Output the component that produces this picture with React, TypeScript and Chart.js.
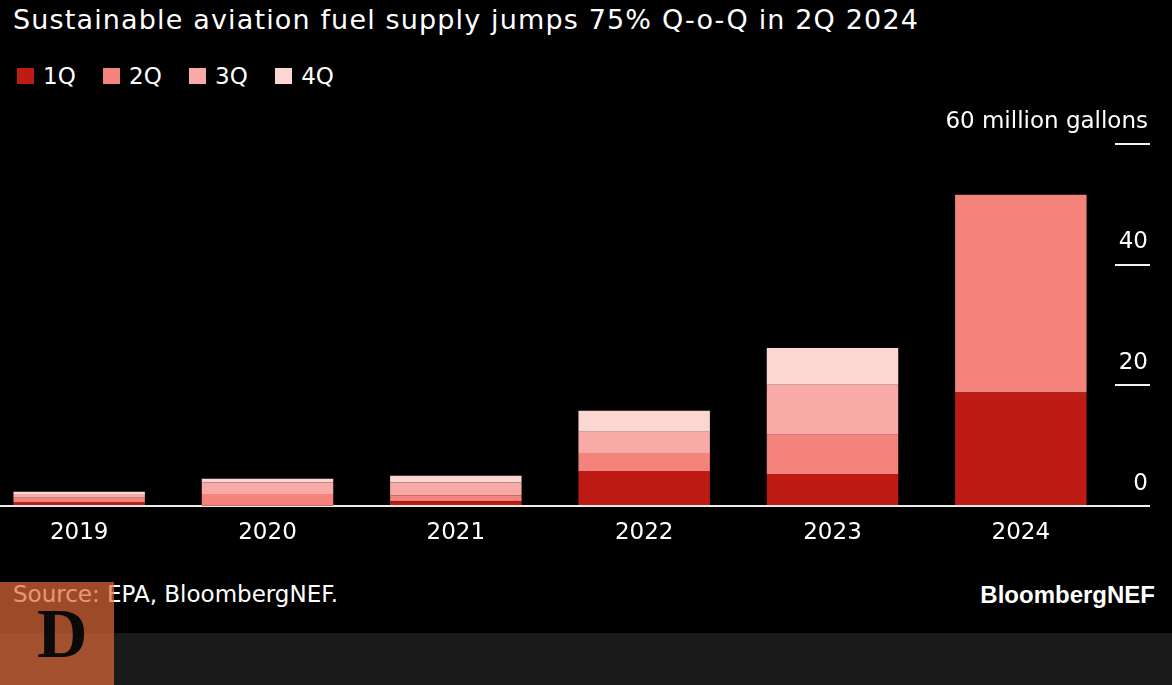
import React, { useEffect, useRef } from 'react';
import { Chart, registerables } from 'chart.js';

Chart.register(...registerables);

const titleText = 'Sustainable aviation fuel supply jumps 75% Q-o-Q in 2Q 2024';
const sourceText = 'Source: EPA, BloombergNEF.';
const brandText = 'BloombergNEF';

const years = ['2019', '2020', '2021', '2022', '2023', '2024'];
const seriesNames = ['1Q', '2Q', '3Q', '4Q'];
const q1Values = [0.6, 0.1, 0.8, 5.8, 5.3, 18.8];
const q2Values = [0.75, 1.9, 1.0, 3.0, 6.5, 32.8];
const q3Values = [0.65, 1.9, 2.1, 3.5, 8.3, null];
const q4Values = [0.35, 0.6, 1.1, 3.5, 6.1, null];
const seriesColors = ['#BD1B13', '#F3837B', '#F8ABA6', '#FCD6D3'];

const yTickValues = [0, 20, 40, 60];
const yTickLabels = ['0', '20', '40', '60 million gallons'];

const FONT = '"DejaVu Sans", sans-serif';

const yLabelPlugin = {
  id: 'yLabelPlugin',
  afterDraw(chart: any) {
    const scale = chart.scales.y;
    const ctx = chart.ctx;
    ctx.save();
    ctx.font = `23px ${FONT}`;
    ctx.fillStyle = '#ffffff';
    ctx.textAlign = 'right';
    ctx.textBaseline = 'alphabetic';
    yTickValues.forEach((v, i) => {
      const y = scale.getPixelForValue(v);
      ctx.fillText(yTickLabels[i], scale.right - 2, y - 16.5);
    });
    ctx.restore();
  },
};

export default function App() {
  const canvasRef = useRef<HTMLCanvasElement | null>(null);

  useEffect(() => {
    if (!canvasRef.current) return;
    const allValues = [q1Values, q2Values, q3Values, q4Values];
    const chart = new Chart(canvasRef.current, {
      type: 'bar',
      data: {
        labels: years,
        datasets: seriesNames.map((name, i) => ({
          label: name,
          data: allValues[i] as any,
          backgroundColor: seriesColors[i],
          borderWidth: 0,
          barPercentage: 0.698,
          categoryPercentage: 1,
        })),
      },
      options: {
        responsive: false,
        animation: false,
        maintainAspectRatio: false,
        layout: { padding: { top: 144, right: 22, left: 0, bottom: 0 } },
        plugins: {
          legend: { display: false },
          tooltip: { enabled: false },
        },
        scales: {
          x: {
            stacked: true,
            grid: { display: false, drawTicks: false },
            border: { display: false },
            ticks: {
              color: '#ffffff',
              font: { family: FONT, size: 23 },
              padding: 13,
              maxRotation: 0,
            },
            afterFit: (scale: any) => {
              scale.height = 54;
            },
          },
          y: {
            stacked: true,
            position: 'right',
            min: 0,
            max: 60,
            ticks: { display: false, stepSize: 20 },
            border: { display: false },
            grid: {
              display: true,
              drawOnChartArea: true,
              drawTicks: true,
              tickLength: 35,
              lineWidth: 2,
              color: (c: any) => (c.tick && c.tick.value === 0 ? '#ececec' : 'rgba(0,0,0,0)'),
              tickColor: '#f2f2f2',
            },
            afterFit: (scale: any) => {
              scale.width = 35;
            },
          },
        },
      },
      plugins: [yLabelPlugin],
    });
    return () => chart.destroy();
  }, []);

  return (
    <div
      style={{
        position: 'fixed',
        left: 0,
        top: 0,
        width: 1172,
        height: 685,
        background: '#000',
        overflow: 'hidden',
        fontFamily: FONT,
        color: '#fff',
      }}
    >
      <div
        style={{
          position: 'absolute',
          left: 13,
          top: 6.4,
          fontSize: 27,
          lineHeight: '27px',
          whiteSpace: 'nowrap',
          letterSpacing: '1.15px',
        }}
      >
        {titleText}
      </div>
      <div style={{ position: 'absolute', left: 17, top: 64.6, display: 'flex', height: 23 }}>
        {seriesNames.map((name, i) => (
          <div key={name} style={{ display: 'flex', alignItems: 'flex-start', marginRight: 27.3 }}>
            <div style={{ width: 17, height: 16, marginTop: 3.4, background: seriesColors[i], marginRight: 9 }} />
            <div style={{ fontSize: 23, lineHeight: '23px', whiteSpace: 'nowrap' }}>{name}</div>
          </div>
        ))}
      </div>
      <canvas
        ref={canvasRef}
        width={1187}
        height={560}
        style={{ position: 'absolute', left: -15, top: 0, width: 1187, height: 560, display: 'block' }}
      />
      <div
        style={{ position: 'absolute', left: 0, top: 633, width: 1172, height: 52, background: '#1a1a1a' }}
      />
      <div
        style={{
          position: 'absolute',
          left: 13,
          top: 583,
          fontSize: 23,
          lineHeight: '23px',
          whiteSpace: 'nowrap',
        }}
      >
        {sourceText}
      </div>
      <div
        style={{
          position: 'absolute',
          right: 17,
          top: 583,
          fontSize: 24,
          lineHeight: '24px',
          fontWeight: 'bold',
          fontFamily: '"Liberation Sans", Arial, sans-serif',
          whiteSpace: 'nowrap',
        }}
      >
        {brandText}
      </div>
      <div
        style={{
          position: 'absolute',
          left: 0,
          top: 582,
          width: 114,
          height: 103,
          background: 'rgba(224,106,58,0.7)',
        }}
      />
      <div
        style={{
          position: 'absolute',
          left: 37,
          top: 599.4,
          fontSize: 70,
          lineHeight: '70px',
          fontWeight: 'bold',
          fontFamily: '"Liberation Serif", serif',
          color: '#0a0a0a',
        }}
      >
        D
      </div>
    </div>
  );
}
